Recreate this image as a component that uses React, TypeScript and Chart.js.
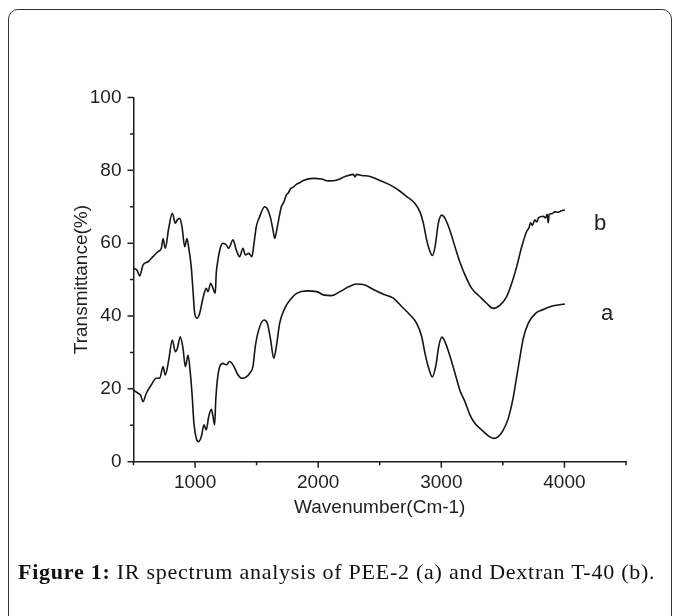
import React, { useEffect, useRef } from "react";
import { Chart, registerables } from "chart.js";

Chart.register(...registerables);

// Curve b: Dextran T-40 (upper)
const waveB = [
  500, 530, 550, 577, 618, 658, 699, 726, 740, 758, 786, 815, 840, 856, 875, 894, 916, 934, 951, 969,
  983, 997, 1016, 1037, 1064, 1091, 1105, 1127, 1146, 1164, 1172, 1186, 1208, 1227, 1254, 1273, 1308,
  1335, 1362, 1389, 1408, 1436, 1462, 1479, 1497, 1525, 1565, 1592, 1614, 1633, 1647, 1668, 1701,
  1720, 1741, 1760, 1776, 1795, 1825, 1850, 1879, 1960, 2028, 2082, 2150, 2218, 2285, 2300, 2310,
  2353, 2421, 2502, 2583, 2651, 2719, 2786, 2827, 2854, 2881, 2908, 2927, 2949, 2976, 3003, 3030,
  3070, 3111, 3152, 3192, 3247, 3314, 3368, 3422, 3477, 3531, 3572, 3612, 3653, 3693, 3712, 3725,
  3740, 3760, 3775, 3790, 3830, 3845, 3860, 3868, 3876, 3900, 3920, 3950, 3975, 4004,
];
const transB = [
  53.1, 52.5, 51.0, 54.0, 54.9, 56.3, 57.7, 58.6, 61.3, 58.6, 64.1, 68.2, 65.5, 66.4, 66.8, 64.5, 59.0, 61.3, 58.1, 53.5,
  47.1, 40.7, 39.4, 40.7, 44.9, 47.6, 46.7, 49.0, 47.6, 46.2, 51.7, 55.4, 59.0, 60.0, 59.5, 58.6, 60.9,
  58.1, 56.3, 58.6, 56.8, 57.2, 56.3, 60.0, 64.5, 67.3, 70.0, 69.1, 66.8, 63.6, 61.3, 64.5, 70.0,
  71.2, 73.2, 73.9, 75.0, 75.3, 76.2, 76.6, 77.2, 77.8, 77.6, 77.1, 77.3, 78.3, 78.9, 78.2, 78.9,
  78.6, 78.3, 77.2, 76.0, 74.6, 72.8, 70.9, 68.6, 65.5, 60.9, 57.7, 56.6, 59.0, 65.5, 67.7, 66.8,
  63.5, 59.0, 54.7, 51.3, 47.6, 45.3, 43.5, 42.1, 43.0, 45.3, 49.0, 53.5, 59.0, 63.2, 64.2, 65.6,
  64.9, 66.4, 65.8, 67.0, 67.4, 66.9, 67.9, 65.6, 67.9, 68.1, 68.6, 68.5, 68.9, 69.1,
];

// Curve a: PEE-2 (lower)
const waveA = [
  500, 537, 558, 577, 604, 645, 685, 713, 740, 758, 786, 815, 840, 856, 880, 902, 921, 943, 959, 975,
  991, 1010, 1029, 1051, 1073, 1091, 1111, 1132, 1146, 1159, 1168, 1181, 1200, 1227, 1254, 1281, 1316,
  1349, 1381, 1416, 1444, 1470, 1489, 1517, 1560, 1587, 1614, 1639, 1660, 1687, 1728, 1776, 1825,
  1907, 1988, 2042, 2110, 2177, 2245, 2313, 2380, 2448, 2529, 2610, 2678, 2746, 2800, 2841, 2867,
  2894, 2927, 2954, 2981, 3005, 3035, 3070, 3111, 3152, 3192, 3233, 3274, 3328, 3382, 3422, 3463,
  3503, 3544, 3585, 3612, 3639, 3666, 3706, 3761, 3828, 3909, 4004,
];
const transA = [
  19.7, 18.8, 18.3, 16.5, 18.8, 21.1, 22.9, 22.9, 26.1, 23.8, 27.9, 33.4, 30.2, 31.1, 34.3, 31.1, 26.1, 29.3, 25.2, 18.8,
  10.5, 6.4, 5.5, 6.9, 10.1, 8.7, 12.4, 14.4, 12.4, 10.1, 16.9, 22.4, 26.1, 27.0, 26.6, 27.5, 26.1,
  23.8, 22.9, 23.3, 24.3, 26.1, 31.6, 36.2, 38.9, 38.0, 33.4, 28.4, 31.6, 38.0, 42.1, 44.6, 46.2,
  46.9, 46.7, 45.8, 45.6, 46.7, 48.0, 48.8, 48.5, 47.3, 46.0, 44.9, 42.6, 40.3, 38.0, 34.3, 29.8,
  26.1, 23.3, 26.1, 32.0, 34.2, 32.5, 29.0, 24.3, 19.5, 16.5, 12.8, 10.5, 8.7, 7.1, 6.4, 6.9,
  8.7, 11.9, 17.8, 23.3, 28.8, 33.9, 38.0, 40.6, 41.8, 42.8, 43.3,
];

const xTickValues = [500, 1000, 1500, 2000, 2500, 3000, 3500, 4000, 4500];
const xLabelValues = [1000, 2000, 3000, 4000];
const yTickValues = [0, 10, 20, 30, 40, 50, 60, 70, 80, 90, 100];
const yLabelValues = [0, 20, 40, 60, 80, 100];

const curveNames = ["b", "a"];
const curveNameWave = [4290, 4346];
const curveNameTrans = [63.6, 38.9];

const xTitle = "Wavenumber(Cm-1)";
const yTitle = "Transmittance(%)";

const INK = "#1e1e1e";
const SANS = "'Liberation Sans', Arial, sans-serif";

const toPoints = (xs: number[], ys: number[]) => xs.map((x, i) => ({ x, y: ys[i] }));

const tickPlugin = {
  id: "originTicks",
  afterDraw(chart: any) {
    const { ctx, chartArea, scales } = chart;
    const xs = scales.x;
    const ys = scales.y;
    ctx.save();
    ctx.strokeStyle = INK;
    ctx.lineWidth = 1.5;
    ctx.beginPath();
    xTickValues.forEach((v) => {
      const px = xs.getPixelForValue(v);
      const len = xLabelValues.includes(v) ? 6 : 3.5;
      ctx.moveTo(px, chartArea.bottom);
      ctx.lineTo(px, chartArea.bottom + len);
    });
    yTickValues.forEach((v) => {
      const py = ys.getPixelForValue(v);
      const len = yLabelValues.includes(v) ? 6 : 3.5;
      ctx.moveTo(chartArea.left, py);
      ctx.lineTo(chartArea.left - len, py);
    });
    ctx.stroke();
    ctx.fillStyle = INK;
    ctx.font = `22px ${SANS}`;
    ctx.textAlign = "center";
    ctx.textBaseline = "alphabetic";
    curveNames.forEach((n, i) => {
      ctx.fillText(n, xs.getPixelForValue(curveNameWave[i]), ys.getPixelForValue(curveNameTrans[i]));
    });
    ctx.restore();
  },
};

export default function App() {
  const ref = useRef<HTMLCanvasElement | null>(null);

  useEffect(() => {
    if (!ref.current) return;
    const font = { family: SANS, size: 19 };
    const chart = new Chart(ref.current, {
      type: "scatter",
      data: {
        datasets: [
          {
            label: "b",
            data: toPoints(waveB, transB),
            showLine: true,
            borderColor: "#151515",
            borderWidth: 1.6,
            pointRadius: 0,
            fill: false,
            cubicInterpolationMode: "monotone",
          },
          {
            label: "a",
            data: toPoints(waveA, transA),
            showLine: true,
            borderColor: "#151515",
            borderWidth: 1.6,
            pointRadius: 0,
            fill: false,
            cubicInterpolationMode: "monotone",
          },
        ],
      },
      options: {
        animation: false,
        responsive: false,
        maintainAspectRatio: false,
        layout: { padding: { left: 60, top: 97.5, right: 54, bottom: 94.3 } },
        plugins: { legend: { display: false }, tooltip: { enabled: false } },
        scales: {
          x: {
            type: "linear",
            min: 500,
            max: 4500,
            afterBuildTicks: (s: any) => {
              s.ticks = xTickValues.map((v) => ({ value: v }));
            },
            afterFit: (s: any) => {
              s.height = 60;
            },
            grid: { display: false, drawTicks: false, tickLength: 0 },
            border: { display: true, color: INK, width: 1.5 },
            ticks: {
              autoSkip: false,
              maxRotation: 0,
              padding: 10,
              color: INK,
              font,
              callback: (v: any) => (xLabelValues.includes(Number(v)) ? String(v) : ""),
            },
            title: {
              display: true,
              text: xTitle,
              color: INK,
              font,
              padding: { top: 0, bottom: 2.3 },
            },
          },
          y: {
            type: "linear",
            min: 0,
            max: 100,
            afterBuildTicks: (s: any) => {
              s.ticks = yTickValues.map((v) => ({ value: v }));
            },
            afterFit: (s: any) => {
              s.width = 73.5;
            },
            grid: { display: false, drawTicks: false, tickLength: 0 },
            border: { display: true, color: INK, width: 1.5 },
            ticks: {
              autoSkip: false,
              padding: 12,
              color: INK,
              font,
              callback: (v: any) => (yLabelValues.includes(Number(v)) ? String(v) : ""),
            },
            title: {
              display: true,
              text: yTitle,
              color: INK,
              font,
              padding: { top: 10.6, bottom: 0 },
            },
          },
        },
      },
      plugins: [tickPlugin],
    } as any);
    return () => chart.destroy();
  }, []);

  return (
    <div
      style={{
        position: "absolute",
        left: 0,
        top: 0,
        width: 680,
        height: 616,
        background: "#fff",
        overflow: "hidden",
      }}
    >
      <div
        style={{
          position: "absolute",
          left: 8,
          top: 9,
          width: 664,
          height: 640,
          border: "1.5px solid #333",
          borderRadius: 10,
          boxSizing: "border-box",
        }}
      />
      <canvas
        ref={ref}
        width={680}
        height={616}
        style={{ position: "absolute", left: 0, top: 0, width: 680, height: 616 }}
      />
      <div
        style={{
          position: "absolute",
          left: 18,
          top: 559,
          fontFamily: "'Liberation Serif', 'Times New Roman', serif",
          fontSize: 22,
          lineHeight: "26px",
          letterSpacing: "0.75px",
          color: "#111",
          whiteSpace: "nowrap",
        }}
      >
        <b>Figure 1:</b> IR spectrum analysis of PEE-2 (a) and Dextran T-40 (b).
      </div>
    </div>
  );
}
